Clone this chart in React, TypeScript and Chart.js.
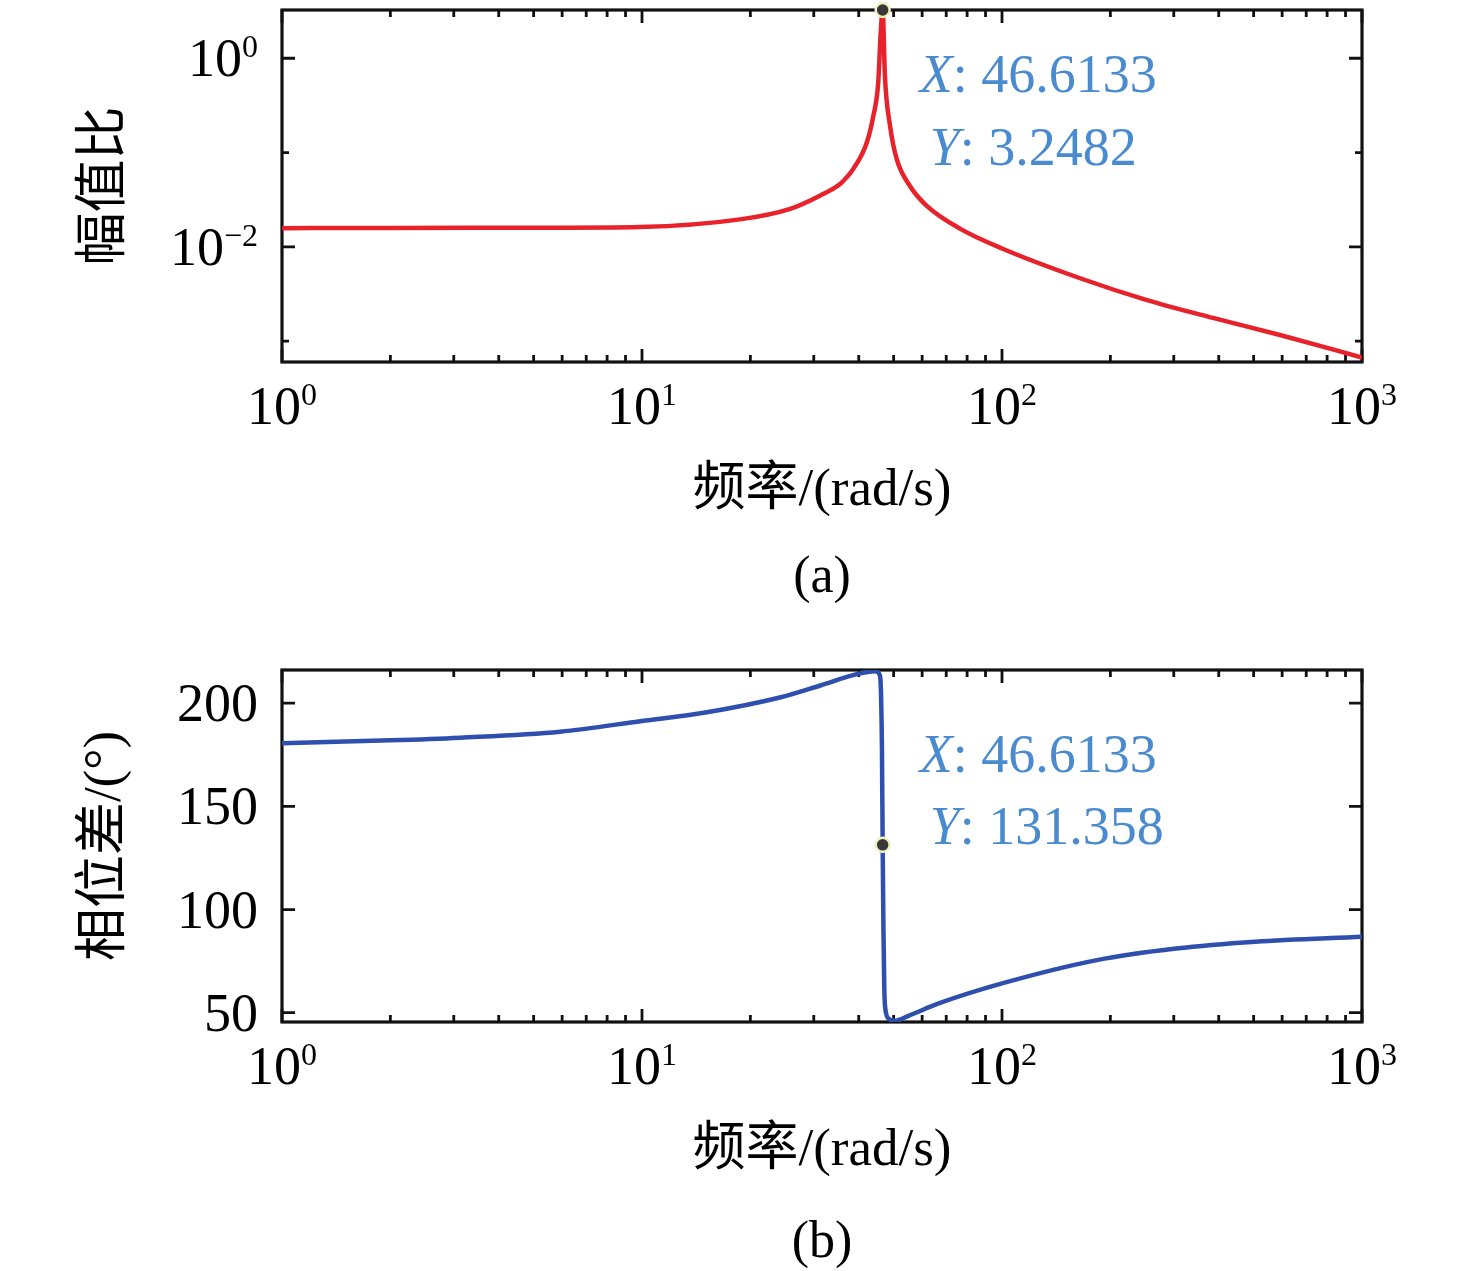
import React, { useEffect, useRef } from 'react';
import { Chart, registerables } from 'chart.js';

Chart.register(...registerables);

// ---------- data ----------
const magFreq = [1, 2, 5, 9.87, 18.7, 25.8, 31.2, 35.5, 37.0, 38.6, 42.1, 43.9, 45.3, 46.0, 46.6133, 47.3, 48.9, 51.0, 55.5, 61.8, 76.4, 100, 164.8, 252.8, 385.5, 591.7, 1000];
const magValue = [0.01578, 0.0158, 0.01596, 0.01625, 0.01954, 0.0253, 0.0349, 0.0464, 0.0545, 0.0667, 0.127, 0.243, 0.546, 1.77, 3.2482, 0.636, 0.189, 0.085, 0.0442, 0.0272, 0.0156, 0.0096, 0.00464, 0.00272, 0.00176, 0.00116, 0.00067];

const phaseFreq = [1, 2, 3.12, 5.92, 10, 15, 24.3, 31.3, 39.7, 44.4, 45.8, 46.1, 46.4, 46.6133, 46.85, 47.1, 47.4, 48.5, 50.4, 55, 66.7, 100, 183.5, 304.5, 505, 1000];
const phaseValue = [180.6, 182.0, 183.3, 186.2, 191.4, 195.5, 202.9, 208.6, 214.2, 215.5, 213.5, 206, 178, 131.358, 90, 62, 52, 47, 46.1, 48.5, 54.5, 64.2, 75.5, 81.1, 84.4, 86.8];

const tipFreq = 46.6133;
const tipMag = 3.2482;
const tipPhase = 131.358;
const tipFreqText = '46.6133';
const tipMagText = '3.2482';
const tipPhaseText = '131.358';

// tick values, and labels as [value, base, exponent]
const xTickValues = [1, 2, 3, 4, 5, 6, 7, 8, 9, 10, 20, 30, 40, 50, 60, 70, 80, 90, 100, 200, 300, 400, 500, 600, 700, 800, 900, 1000];
const xTickLabels: [number, string, string][] = [[1, '10', '0'], [10, '10', '1'], [100, '10', '2'], [1000, '10', '3']];
const magTickValues = [0.001, 0.01, 0.1, 1];
const magTickLabels: [number, string, string][] = [[1, '10', '0'], [0.01, '10', '−2']];
const phaseTickValues = [50, 100, 150, 200];
const phaseTickLabels: [number, string, string][] = [[50, '50', ''], [100, '100', ''], [150, '150', ''], [200, '200', '']];

const xTitle = '频率/(rad/s)';
const magTitle = '幅值比';
const phaseTitle = '相位差/(°)';
const captionA = '(a)';
const captionB = '(b)';

// ---------- styling ----------
const SERIF = "'Liberation Serif', 'DejaVu Serif', 'Noto Sans CJK SC', serif";
const TIP_COLOR = '#4a8bcf';
const TICK_SIZE = 54;
const EXP_SIZE = 32;

function findLabel(pairs: [number, string, string][], v: number) {
  return pairs.find((p) => Math.abs(p[0] - v) <= 1e-12 + 1e-9 * Math.abs(v));
}

function drawRich(ctx: any, base: string, exp: string, x: number, y: number, align: 'center' | 'right') {
  ctx.font = `${TICK_SIZE}px ${SERIF}`;
  const wb = ctx.measureText(base).width;
  ctx.font = `${EXP_SIZE}px ${SERIF}`;
  const we = exp ? ctx.measureText(exp).width : 0;
  const total = wb + we;
  const x0 = align === 'center' ? x - total / 2 : x - total;
  ctx.font = `${TICK_SIZE}px ${SERIF}`;
  ctx.fillText(base, x0, y);
  if (exp) {
    ctx.font = `${EXP_SIZE}px ${SERIF}`;
    ctx.fillText(exp, x0 + wb, y - 19);
  }
}

const framePlugin = {
  id: 'frame',
  beforeDatasetsDraw(chart: any, _args: any, opts: any) {
    const { ctx, chartArea: a } = chart;
    const xs = chart.scales.x;
    const ys = chart.scales.y;
    ctx.save();
    ctx.strokeStyle = '#111';
    ctx.lineWidth = 2.8;
    ctx.lineCap = 'butt';
    xs.ticks.forEach((t: any) => {
      const p = xs.getPixelForValue(t.value);
      const len = t.label ? opts.major : opts.minor;
      ctx.beginPath();
      ctx.moveTo(p, a.bottom);
      ctx.lineTo(p, a.bottom - len);
      ctx.moveTo(p, a.top);
      ctx.lineTo(p, a.top + len);
      ctx.stroke();
    });
    ys.ticks.forEach((t: any) => {
      const p = ys.getPixelForValue(t.value);
      const len = t.label ? opts.major : opts.minor;
      ctx.beginPath();
      ctx.moveTo(a.left, p);
      ctx.lineTo(a.left + len, p);
      ctx.moveTo(a.right, p);
      ctx.lineTo(a.right - len, p);
      ctx.stroke();
    });
    ctx.lineWidth = 3.2;
    ctx.strokeRect(a.left, a.top, a.right - a.left, a.bottom - a.top);

    // tick labels, placed through the scales
    ctx.fillStyle = '#000';
    ctx.textBaseline = 'alphabetic';
    ctx.textAlign = 'left';
    xs.ticks.forEach((t: any) => {
      const lab = findLabel(opts.xLabels, t.value);
      if (!lab) return;
      drawRich(ctx, lab[1], lab[2], xs.getPixelForValue(t.value), a.bottom + 62, 'center');
    });
    ys.ticks.forEach((t: any) => {
      const lab = findLabel(opts.yLabels, t.value);
      if (!lab) return;
      drawRich(ctx, lab[1], lab[2], a.left - 24, ys.getPixelForValue(t.value) + 18, 'right');
    });
    ctx.restore();
  },
};

const tipPlugin = {
  id: 'tip',
  afterDatasetsDraw(chart: any, _args: any, opts: any) {
    const { ctx } = chart;
    const px = chart.scales.x.getPixelForValue(opts.x);
    const py = chart.scales.y.getPixelForValue(opts.y);
    ctx.save();
    ctx.fillStyle = TIP_COLOR;
    ctx.textBaseline = 'alphabetic';
    ctx.textAlign = 'left';
    opts.lines.forEach((ln: any) => {
      const x0 = px + ln.dx;
      const y0 = py + ln.dy;
      ctx.font = `italic 54px ${SERIF}`;
      ctx.fillText(ln.name, x0, y0);
      const w = ctx.measureText(ln.name).width;
      ctx.font = `54px ${SERIF}`;
      ctx.fillText(': ' + ln.value, x0 + w, y0);
    });
    ctx.restore();
  },
};

function zeroPadding(s: any) {
  s.paddingTop = 0;
  s.paddingBottom = 0;
  s.paddingLeft = 0;
  s.paddingRight = 0;
}

function makeConfig(p: {
  xs: number[];
  ys: number[];
  color: string;
  yType: 'logarithmic' | 'linear';
  yMin: number;
  yMax: number;
  yTicks: number[];
  yLabels: [number, string, string][];
  yTitle: string;
  tipY: number;
  tipLines: any[];
}): any {
  const lineData = p.xs.map((x, i) => ({ x, y: p.ys[i] }));
  return {
    type: 'line',
    data: {
      datasets: [
        {
          data: [{ x: tipFreq, y: p.tipY }],
          showLine: false,
          pointRadius: 7,
          pointBackgroundColor: '#383838',
          pointBorderColor: '#f3f1c2',
          pointBorderWidth: 2.5,
          clip: false,
        },
        {
          data: lineData,
          borderColor: p.color,
          borderWidth: 4.5,
          pointRadius: 0,
          fill: false,
          cubicInterpolationMode: 'monotone',
        },
      ],
    },
    options: {
      animation: false,
      responsive: true,
      maintainAspectRatio: false,
      layout: { padding: { top: 10, right: 114, bottom: 0, left: 0 } },
      plugins: {
        legend: { display: false },
        tooltip: { enabled: false },
        frame: { major: 13, minor: 7, xLabels: xTickLabels, yLabels: p.yLabels },
        tip: { x: tipFreq, y: p.tipY, lines: p.tipLines },
      },
      scales: {
        x: {
          type: 'logarithmic',
          min: 1,
          max: 1000,
          afterBuildTicks: (s: any) => {
            s.ticks = xTickValues.map((v) => ({ value: v }));
          },
          afterFit: (s: any) => {
            s.height = 178;
            zeroPadding(s);
          },
          grid: { display: false, drawTicks: false },
          border: { display: false },
          ticks: {
            display: false,
            autoSkip: false,
            maxRotation: 0,
            minRotation: 0,
            callback: (v: any) => (findLabel(xTickLabels, Number(v)) ? 'M' : ''),
          },
          title: {
            display: true,
            text: xTitle,
            color: '#000',
            font: { family: SERIF, size: 53 },
            padding: { top: 0, bottom: 17 },
          },
        },
        y: {
          type: p.yType,
          min: p.yMin,
          max: p.yMax,
          afterBuildTicks: (s: any) => {
            s.ticks = p.yTicks.map((v) => ({ value: v }));
          },
          afterFit: (s: any) => {
            s.width = 282;
            zeroPadding(s);
          },
          grid: { display: false, drawTicks: false },
          border: { display: false },
          ticks: {
            display: false,
            autoSkip: false,
            callback: (v: any) => (findLabel(p.yLabels, Number(v)) ? 'M' : ''),
          },
          title: {
            display: true,
            text: p.yTitle,
            color: '#000',
            font: { family: SERIF, size: 53 },
            padding: { top: 74, bottom: 0 },
          },
        },
      },
    },
    plugins: [framePlugin, tipPlugin],
  };
}

function Panel({ top, config }: { top: number; config: any }) {
  const ref = useRef<HTMLCanvasElement | null>(null);
  useEffect(() => {
    if (!ref.current) return;
    const chart = new Chart(ref.current, config);
    return () => chart.destroy();
  }, [config]);
  return (
    <div style={{ position: 'absolute', left: 0, top, width: 1476, height: 540 }}>
      <canvas ref={ref} />
    </div>
  );
}

const magConfig = makeConfig({
  xs: magFreq,
  ys: magValue,
  color: '#e8222a',
  yType: 'logarithmic',
  yMin: 0.00063,
  yMax: 3.25,
  yTicks: magTickValues,
  yLabels: magTickLabels,
  yTitle: magTitle,
  tipY: tipMag,
  tipLines: [
    { name: 'X', value: tipFreqText, dx: 37, dy: 82 },
    { name: 'Y', value: tipMagText, dx: 47, dy: 155 },
  ],
});

const phaseConfig = makeConfig({
  xs: phaseFreq,
  ys: phaseValue,
  color: '#2f4fae',
  yType: 'linear',
  yMin: 45.5,
  yMax: 216.1,
  yTicks: phaseTickValues,
  yLabels: phaseTickLabels,
  yTitle: phaseTitle,
  tipY: tipPhase,
  tipLines: [
    { name: 'X', value: tipFreqText, dx: 37, dy: -73 },
    { name: 'Y', value: tipPhaseText, dx: 47, dy: -1 },
  ],
});

const captionStyle: React.CSSProperties = {
  position: 'absolute',
  left: 722,
  width: 200,
  textAlign: 'center',
  fontFamily: SERIF,
  fontSize: 52,
  lineHeight: '52px',
  color: '#000',
};

export default function App() {
  return (
    <div style={{ position: 'fixed', left: 0, top: 0, width: 1476, height: 1271, background: '#fff', overflow: 'hidden' }}>
      <Panel top={0} config={magConfig} />
      <Panel top={660} config={phaseConfig} />
      <div style={{ ...captionStyle, top: 549 }}>{captionA}</div>
      <div style={{ ...captionStyle, top: 1214 }}>{captionB}</div>
    </div>
  );
}
